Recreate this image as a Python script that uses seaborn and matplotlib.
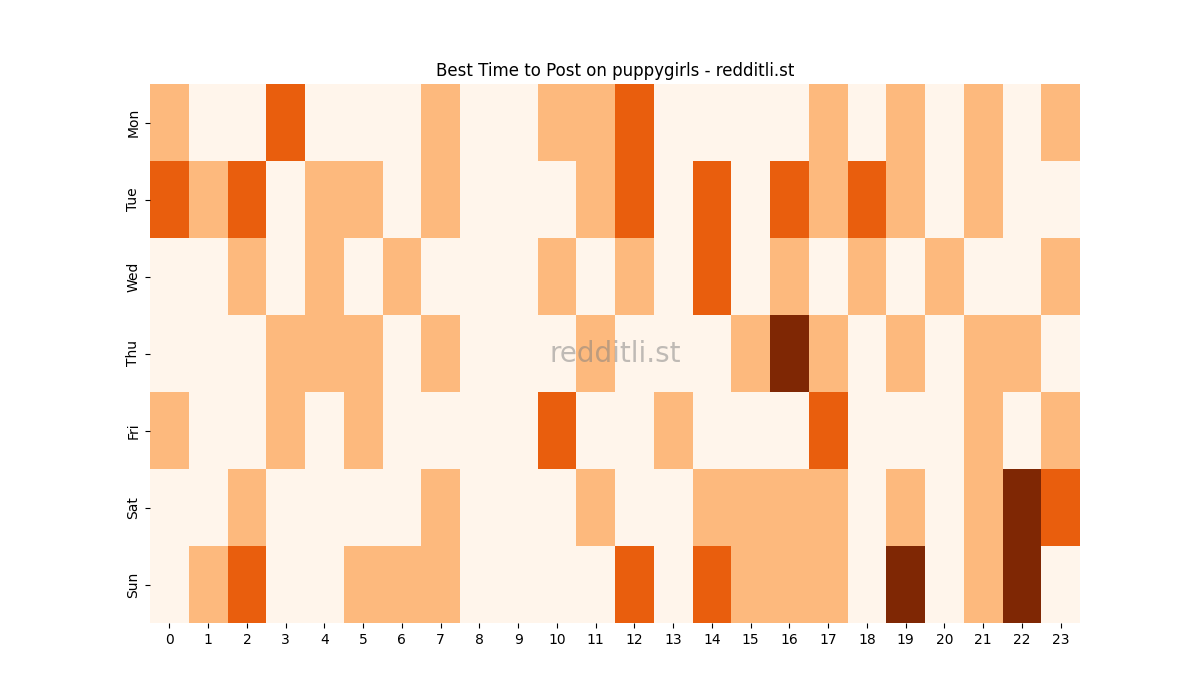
import matplotlib
matplotlib.use("Agg")
import matplotlib.pyplot as plt
import seaborn as sns
import pandas as pd

days = ["Mon", "Tue", "Wed", "Thu", "Fri", "Sat", "Sun"]
hours = list(range(24))

mon = [1,0,0,2,0,0,0,1,0,0,1,1,2,0,0,0,0,1,0,1,0,1,0,1]
tue = [2,1,2,0,1,1,0,1,0,0,0,1,2,0,2,0,2,1,2,1,0,1,0,0]
wed = [0,0,1,0,1,0,1,0,0,0,1,0,1,0,2,0,1,0,1,0,1,0,0,1]
thu = [0,0,0,1,1,1,0,1,0,0,0,1,0,0,0,1,3,1,0,1,0,1,1,0]
fri = [1,0,0,1,0,1,0,0,0,0,2,0,0,1,0,0,0,2,0,0,0,1,0,1]
sat = [0,0,1,0,0,0,0,1,0,0,0,1,0,0,1,1,1,1,0,1,0,1,3,2]
sun = [0,1,2,0,0,1,1,1,0,0,0,0,2,0,2,1,1,1,0,3,0,1,3,0]

df = pd.DataFrame([mon, tue, wed, thu, fri, sat, sun], index=days, columns=hours)

fig, ax = plt.subplots(figsize=(12, 7), dpi=100)
sns.heatmap(df, cmap="Oranges", vmin=0, vmax=3, cbar=False, ax=ax)
ax.set_title("Best Time to Post on puppygirls - redditli.st", fontsize=12)
ax.set_yticklabels(days, rotation=90, va="center")
ax.set_xticklabels([str(h) for h in hours], rotation=0)
ax.set_xlabel("")
ax.set_ylabel("")
ax.text(0.5, 0.5, "redditli.st", transform=ax.transAxes, ha="center", va="center",
        fontsize=20, color="gray", alpha=0.5)
fig.savefig("out.png")
